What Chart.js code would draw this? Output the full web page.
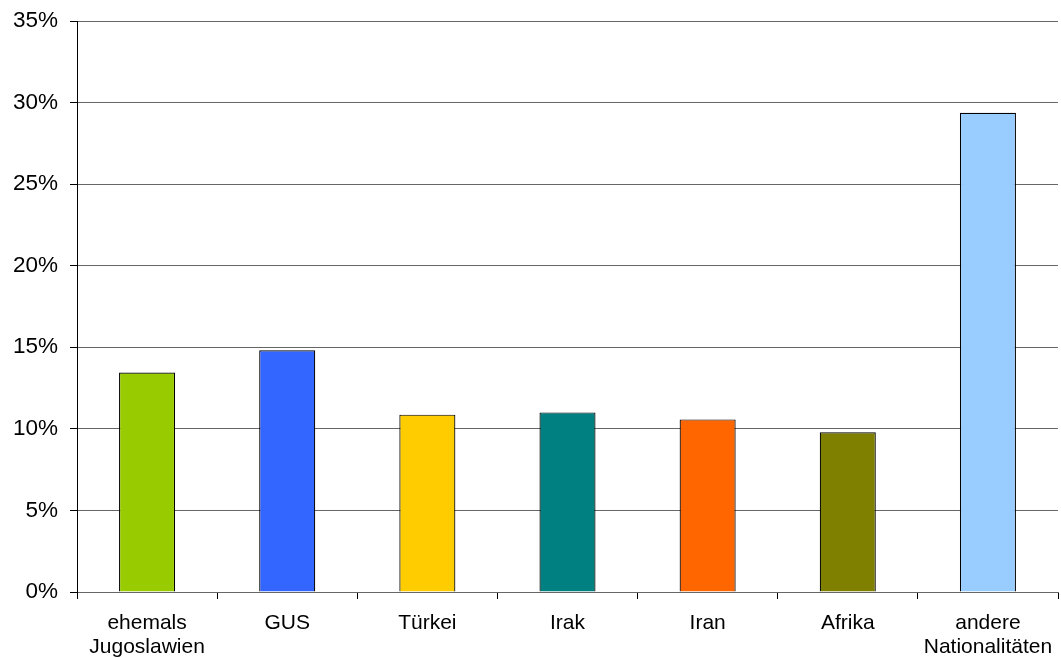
<!DOCTYPE html>
<html>
<head>
<meta charset="utf-8">
<script src="https://cdn.jsdelivr.net/npm/chart.js@4/dist/chart.umd.min.js"></script>
<style>
  html, body { margin: 0; padding: 0; background: #fff; }
  #chart { display: block; }
</style>
</head>
<body>
<canvas id="chart" width="1061" height="658"></canvas>
<script>
  // Data (share in percent)
  const categories = [
    ['ehemals', 'Jugoslawien'], 'GUS', 'Türkei', 'Irak', 'Iran', 'Afrika', ['andere', 'Nationalitäten']
  ];
  const shares = [13.45, 14.82, 10.87, 11.01, 10.58, 9.79, 29.37];
  const barColors = ['#99CC00', '#3366FF', '#FFCC00', '#008080', '#FF6600', '#808000', '#99CCFF'];
  const yTicks = [0, 5, 10, 15, 20, 25, 30, 35];

  const font = 'Liberation Sans, Arial, sans-serif';

  const ctx = document.getElementById('chart').getContext('2d');
  new Chart(ctx, {
    type: 'bar',
    data: {
      labels: categories,
      datasets: [{
        data: shares,
        backgroundColor: barColors,
        borderColor: '#000',
        borderWidth: 1.2,
        categoryPercentage: 1,
        barPercentage: 0.4
      }]
    },
    options: {
      responsive: false,
      animation: false,
      layout: { padding: { left: 0, right: 3, top: 21, bottom: 0 } },
      plugins: {
        legend: { display: false },
        tooltip: { enabled: false }
      },
      scales: {
        x: {
          grid: {
            offset: true,
            drawOnChartArea: true,
            color: c => c.index === categories.length ? '#808080' : 'rgba(0,0,0,0)',
            tickColor: '#000',
            tickLength: 7
          },
          border: { color: '#666', width: 1 },
          ticks: {
            color: '#000',
            font: { family: font, size: 21, lineHeight: 1.15 },
            padding: 12,
            maxRotation: 0,
            autoSkip: false
          },
          afterFit: scale => {
            scale.height = 66;
            scale.paddingLeft = 0;
            scale.paddingRight = 0;
          }
        },
        y: {
          min: 0,
          max: 35,
          afterBuildTicks: scale => { scale.ticks = yTicks.map(v => ({ value: v })); },
          grid: {
            color: '#666',
            tickColor: '#000',
            tickLength: 7
          },
          border: { color: '#000', width: 1 },
          ticks: {
            color: '#000',
            font: { family: font, size: 22.5 },
            padding: 12,
            callback: v => v + '%'
          },
          afterFit: scale => {
            scale.width = 77;
            scale.paddingTop = 0;
            scale.paddingBottom = 0;
          }
        }
      }
    }
  });
</script>
</body>
</html>
